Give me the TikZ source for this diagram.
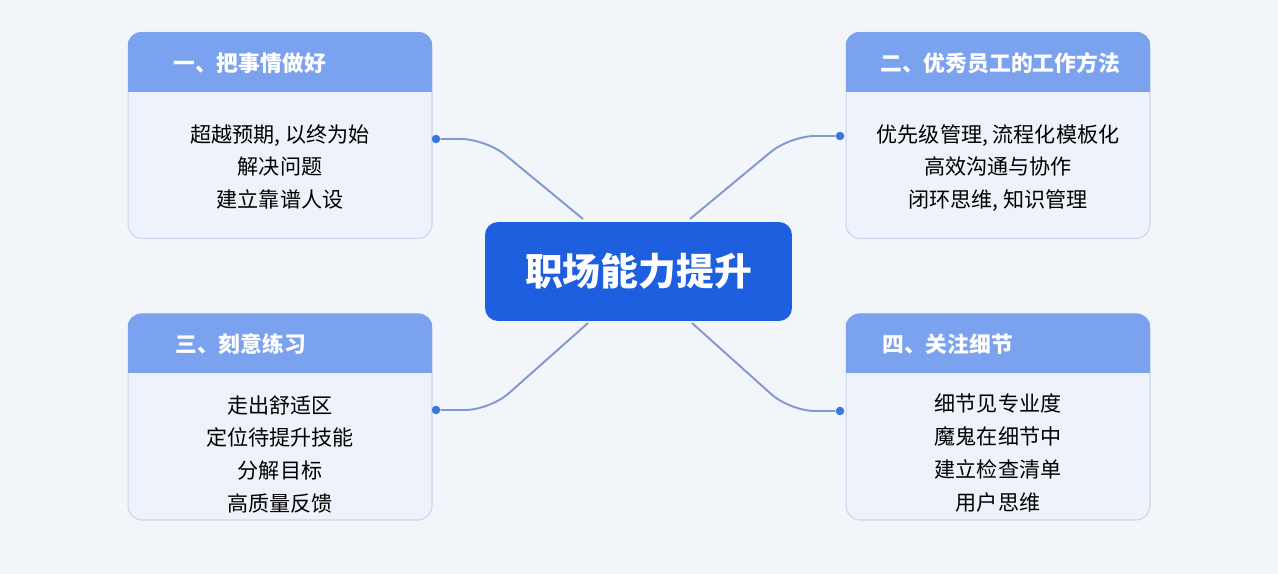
\documentclass[tikz,border=0pt]{standalone}
\usepackage{fontspec}
\setmainfont{Noto Sans CJK SC}
\usetikzlibrary{positioning}
\definecolor{pagebg}{HTML}{F2F5FA}
\definecolor{cardbody}{HTML}{EEF2FA}
\definecolor{cardline}{HTML}{CAD6EE}
\definecolor{cardhead}{HTML}{7BA2EF}
\definecolor{hubblue}{HTML}{1D5FDF}
\definecolor{linkline}{HTML}{8299CF}
\definecolor{dotblue}{HTML}{3A75E0}
\tikzset{
  card/.style={draw=cardline,line width=0.6pt,fill=cardbody,rounded corners=0.28cm,
    minimum width=6.08cm,minimum height=4.12cm,inner sep=0pt},
  headtxt/.style={anchor=west,inner sep=0pt,text=white,font=\fontsize{12.4}{15}\selectfont\bfseries},
  bodytxt/.style={align=center,inner sep=0pt,font=\fontsize{12}{18.6}\selectfont},
  hub/.style={fill=hubblue,rounded corners=0.26cm,minimum width=6.14cm,minimum height=1.98cm,
    text=white,font=\fontsize{21.5}{26}\selectfont\bfseries},
  link/.style={draw=linkline,line width=1.1pt,rounded corners=0.5cm},
  pin/.style={circle,fill=dotblue,inner sep=0pt,minimum size=0.17cm}
}
\begin{document}
\begin{tikzpicture}[x=0.02cm,y=-0.02cm]
\fill[pagebg] (0,0) rectangle (1278,574);
\useasboundingbox (0,0) rectangle (1278,574);
% hub
\node[hub] (hub) at (638.5,271.5) {职场能力提升};
% cards
\node[card] (k1) at (280,135.5) {};
\node[card] (k2) at (998,135.5) {};
\node[card] (k3) at (280,417) {};
\node[card] (k4) at (998,417) {};
\foreach \k in {k1,k2,k3,k4}{
  \begin{scope}
    \clip[rounded corners=0.28cm] (\k.south west) rectangle (\k.north east);
    \fill[cardhead] (\k.north west) rectangle ([yshift=-1.2cm]\k.north east);
  \end{scope}
}
\node[headtxt] (h1) at (173,63) {一、把事情做好};
\node[headtxt] (h2) at (880,63) {二、优秀员工的工作方法};
\node[headtxt] (h3) at (175,344) {三、刻意练习};
\node[headtxt] (h4) at (882,344) {四、关注细节};
\node[bodytxt] (b1) at (280,167) {超越预期, 以终为始\\解决问题\\建立靠谱人设};
\node[bodytxt] (b2) at (998,168) {优先级管理, 流程化模板化\\高效沟通与协作\\闭环思维, 知识管理};
\node[bodytxt] (b3) at (280,454) {走出舒适区\\定位待提升技能\\分解目标\\高质量反馈};
\node[bodytxt] (b4) at (998,453) {细节见专业度\\魔鬼在细节中\\建立检查清单\\用户思维};
% pins and links
\node[pin] (d1) at (436,139) {};
\node[pin] (d2) at (840,136) {};
\node[pin] (d3) at (436,410) {};
\node[pin] (d4) at (840,411) {};
\coordinate (t1) at (583,219);
\coordinate (t2) at (690,219);
\coordinate (t3) at (588,323);
\coordinate (t4) at (692,323);
\draw[link] (d1) -- ++(50,0) -- (t1);
\draw[link] (d2) -- ++(-50,0) -- (t2);
\draw[link] (d3) -- ++(54,0) -- (t3);
\draw[link] (d4) -- ++(-50,0) -- (t4);
\end{tikzpicture}
\end{document}
